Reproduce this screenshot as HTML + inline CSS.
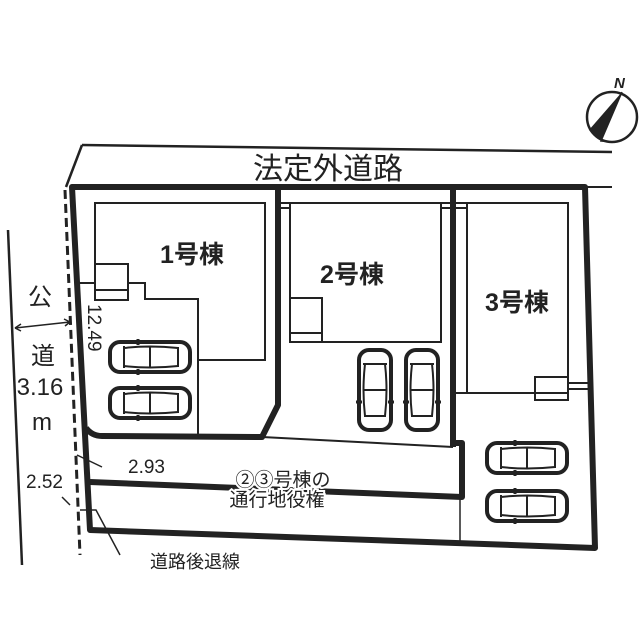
<!DOCTYPE html>
<html><head><meta charset="utf-8"><style>html,body{margin:0;padding:0;background:#fff}svg{display:block}text{font-family:"Liberation Sans","Noto Sans CJK JP",sans-serif;fill:#222}</style></head><body>
<svg width="640" height="640" viewBox="0 0 640 640" xmlns="http://www.w3.org/2000/svg">
<defs>
<g id="carh" fill="none" stroke="#222">
<rect x="0" y="0" width="80" height="30" rx="10" stroke-width="4"/>
<path d="M14 4 L14 26 M68 5 L68 25 M14 6 Q40 3 68 6 M14 24 Q40 27 68 24 M40 5 L40 25" stroke-width="2"/>
<path d="M28 -3 L28 3 M28 27 L28 33" stroke-width="3"/>
</g>
<g id="carv" fill="none" stroke="#222">
<rect x="0" y="0" width="32" height="80" rx="10" stroke-width="4"/>
<path d="M4 14 L28 14 M5 66 L27 66 M6 14 Q3 40 6 66 M26 14 Q29 40 26 66 M5 40 L27 40" stroke-width="2"/>
<path d="M-3 52 L3 52 M29 52 L35 52" stroke-width="3"/>
</g>
</defs>
<g stroke="#222" fill="none">
<path d="M82 145 L612 152" stroke-width="2.5"/>
<path d="M82 145 L66 187" stroke-width="2.5"/>
<path d="M585 187 L612 187" stroke-width="2"/>
<path d="M8 230 L22 565" stroke-width="2.5"/>
<path d="M65 190 L80 555" stroke-width="3" stroke-dasharray="9,5"/>
<path d="M15 328 L70 322" stroke-width="1.5"/>
<path d="M15 328 l6 -4 M15 328 l6 3 M70 322 l-6 -3 M70 322 l-5 4" stroke-width="1.5"/>
<path d="M72 187 L585 187 L595 548 L90 530 Z" stroke-width="6" stroke-linejoin="round"/>
<path d="M86 428 Q92 436 102 436 L262 437 L278 405 L278 187" stroke-width="6" stroke-linejoin="round"/>
<path d="M262 437 L453 447" stroke-width="2"/>
<path d="M453 187 L453 447" stroke-width="6"/>
<path d="M453 443 L462 443 L462 497 L90 482" stroke-width="6" stroke-linejoin="round"/>
<path d="M460 497 L460 543" stroke-width="1.5"/>
<path d="M95 264 L95 203 L265 203 L265 360 L198 360 L198 435 M198 360 L198 299 L145 299 L145 283 L128 283 L128 264 L95 264 L95 300 L128 300 L128 283 M95 283 L80 283 M95 290 L128 290" stroke-width="2"/>
<path d="M290 203 L441 203 L441 342 L290 342 Z M290 298 L322 298 L322 342 M290 333 L322 333 M278 203 L290 203 M278 208 L290 208 M441 203 L453 203 M441 208 L453 208" stroke-width="2"/>
<path d="M467 203 L568 203 L568 393 L467 393 Z M535 377 L568 377 L568 400 L535 400 Z M568 383 L588 383 M568 389 L588 389 M453 393 L467 393 M453 203 L467 203 M453 208 L467 208" stroke-width="2"/>
<path d="M77 455 L102 467" stroke-width="1.5"/>
<path d="M62 497 L70 505" stroke-width="1.5"/>
<path d="M80 510 L96 510 L120 555" stroke-width="1.5"/>
<circle cx="612" cy="117" r="25" stroke-width="2.5"/>
</g>
<path d="M622 92 L601 141 L589 130 Z" fill="#222"/>
<path d="M622 92 L601 141 L612 142" stroke="#222" fill="none" stroke-width="1.5"/>
<text x="614" y="88" font-size="15" font-weight="bold" font-style="italic">N</text>
<use href="#carh" x="110" y="342"/>
<use href="#carh" x="110" y="388"/>
<use href="#carv" x="359" y="350"/>
<use href="#carv" x="406" y="350"/>
<use href="#carh" x="487" y="443"/>
<use href="#carh" x="487" y="491"/>
<text x="328" y="179" font-size="30" text-anchor="middle">法定外道路</text>
<text x="192" y="263" font-size="25" font-weight="bold" text-anchor="middle">1号棟</text>
<text x="352" y="283" font-size="25" font-weight="bold" text-anchor="middle">2号棟</text>
<text x="517" y="311" font-size="25" font-weight="bold" text-anchor="middle">3号棟</text>
<text x="40" y="305" font-size="24" text-anchor="middle">公</text>
<text x="43" y="364" font-size="24" text-anchor="middle">道</text>
<text x="40" y="395" font-size="24" text-anchor="middle">3.16</text>
<text x="42" y="430" font-size="24" text-anchor="middle">m</text>
<text transform="translate(88,304) rotate(90)" font-size="19">12.49</text>
<text x="128" y="473" font-size="19">2.93</text>
<text x="26" y="488" font-size="19">2.52</text>
<text x="150" y="568" font-size="18">道路後退線</text>
<g stroke="#fff" stroke-width="4" paint-order="stroke" font-size="19" text-anchor="middle">
<text x="283" y="486">②③号棟の</text>
<text x="277" y="506">通行地役権</text>
</g>
</svg>
</body></html>
